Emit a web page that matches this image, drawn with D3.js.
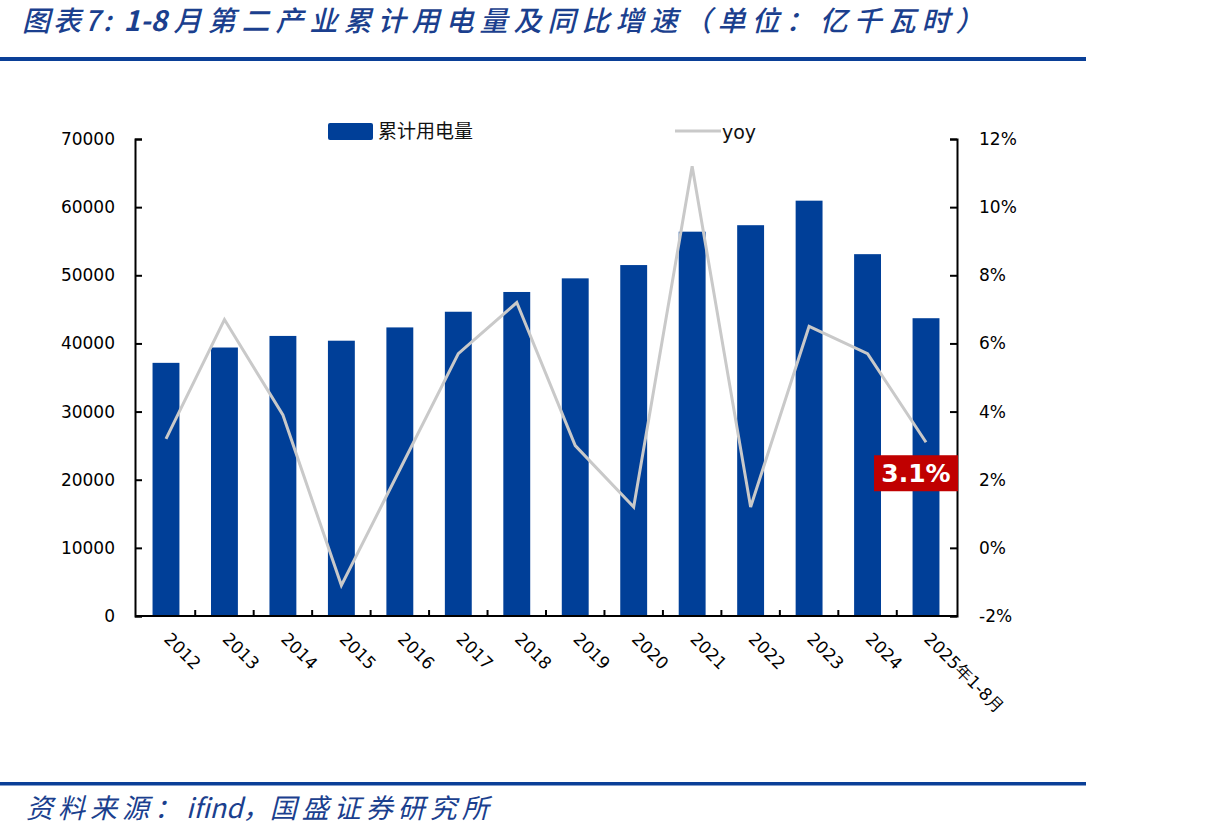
<!DOCTYPE html>
<html>
<head>
<meta charset="utf-8">
<script src="https://cdn.jsdelivr.net/npm/d3@7"></script>
<style>
  body { margin: 0; background: #fff; }
  svg { display: block; }
</style>
</head>
<body>
<svg width="1205" height="839"></svg>
<script>
// data
var years = ["2012","2013","2014","2015","2016","2017","2018","2019","2020","2021","2022","2023","2024","2025年1-8月"];
var power = [37150, 39400, 41100, 40400, 42350, 44650, 47550, 49550, 51500, 56400, 57350, 60950, 53100, 43700];
var yoy = [3.2, 6.7, 3.9, -1.1, 2.3, 5.7, 7.2, 3.0, 1.2, 11.2, 1.2, 6.5, 5.7, 3.1];
var leftTicks = [0, 10000, 20000, 30000, 40000, 50000, 60000, 70000];
var rightTicks = [-2, 0, 2, 4, 6, 8, 10, 12];

var svg = d3.select("svg");
var blue = "#003f98", grey = "#c9c9c9", titleBlue = "#1b3f8e";
var fontCN = "'Noto Sans CJK SC', sans-serif";
var fontNum = "'DejaVu Sans', Verdana, sans-serif";

var plotL = 135, plotR = 957, plotT = 139, plotB = 616;

var x = d3.scaleBand().domain(years).range([plotL, plotR]).paddingInner(0.54).paddingOuter(0.3);
var y = d3.scaleLinear().domain([0, 70000]).range([plotB, plotT]);
var y2 = d3.scaleLinear().domain([-2, 12]).range([plotB, plotT]);

// title
var title = svg.append("text")
    .attr("x", 22).attr("y", 31)
    .style("font-family", fontCN).style("font-style", "italic").style("font-weight", "500")
    .style("font-size", "28px").style("fill", titleBlue);
title.append("tspan").style("letter-spacing", "3px").text("图表7: ");
title.append("tspan").style("font-weight", "bold").text("1-8 ");
title.append("tspan").style("letter-spacing", "6px").text("月第二产业累计用电量及同比增速（单位：亿千瓦时）");
svg.append("rect").attr("x", 0).attr("y", 57).attr("width", 1086).attr("height", 4).attr("fill", "#0a3f97");

// footer
svg.append("rect").attr("x", 0).attr("y", 782).attr("width", 1086).attr("height", 3.5).attr("fill", "#0a3f97");
var foot = svg.append("text")
    .attr("x", 26).attr("y", 818)
    .style("font-family", fontCN).style("font-style", "italic")
    .style("font-size", "27px").style("fill", titleBlue);
foot.append("tspan").style("letter-spacing", "5px").text("资料来源：");
foot.append("tspan").text("ifind，");
foot.append("tspan").style("letter-spacing", "5px").text("国盛证券研究所");

// bars
svg.append("g").selectAll("rect")
    .data(power)
  .enter().append("rect")
    .attr("x", function(d, i) { return x(years[i]); })
    .attr("y", function(d) { return y(d); })
    .attr("width", x.bandwidth())
    .attr("height", function(d) { return plotB - y(d); })
    .attr("fill", blue);

// yoy line
var line = d3.line()
    .x(function(d, i) { return x(years[i]) + x.bandwidth() / 2; })
    .y(function(d) { return y2(d); });
svg.append("path")
    .datum(yoy)
    .attr("d", line)
    .attr("fill", "none")
    .attr("stroke", grey)
    .attr("stroke-width", 3);

// axes
var axL = svg.append("g").attr("transform", "translate(" + plotL + ",0)")
    .call(d3.axisLeft(y).tickValues(leftTicks).tickSize(-7).tickPadding(20).tickFormat(d3.format("d")));
var axR = svg.append("g").attr("transform", "translate(" + plotR + ",0)")
    .call(d3.axisRight(y2).tickValues(rightTicks).tickSize(-7).tickPadding(22).tickFormat(function(d) { return d + "%"; }));
[axL, axR].forEach(function(a) {
  a.select(".domain").attr("stroke", "#000").attr("stroke-width", 2);
  a.selectAll(".tick line").attr("stroke", "#000").attr("stroke-width", 2);
  a.selectAll(".tick text").style("font-family", fontNum).style("font-size", "17px").style("fill", "#000");
});

// bottom axis line and ticks between categories
svg.append("line").attr("x1", plotL).attr("x2", plotR).attr("y1", plotB).attr("y2", plotB)
    .attr("stroke", "#000").attr("stroke-width", 2);
var step = x.step();
svg.append("g").selectAll("line")
    .data(years.slice(1))
  .enter().append("line")
    .attr("x1", function(d) { return x(d) - step * 0.27; })
    .attr("x2", function(d) { return x(d) - step * 0.27; })
    .attr("y1", plotB).attr("y2", plotB - 6)
    .attr("stroke", "#000").attr("stroke-width", 2);

// x labels
svg.append("g").selectAll("text")
    .data(years)
  .enter().append("text")
    .attr("transform", function(d) {
      return "translate(" + (x(d) + x.bandwidth() / 2 - 3) + "," + (plotB + 24) + ") rotate(45)";
    })
    .style("font-family", fontNum).style("font-size", "17px").style("fill", "#000")
    .text(function(d) { return d; });

// last value label
var lx = x(years[13]) + x.bandwidth() / 2, ly = y2(yoy[13]);
svg.append("rect").attr("x", lx - 52).attr("y", ly + 13).attr("width", 84).attr("height", 36).attr("fill", "#c00000");
svg.append("text")
    .attr("x", lx - 10).attr("y", ly + 40)
    .attr("text-anchor", "middle")
    .style("font-family", fontNum).style("font-weight", "bold")
    .style("font-size", "25px").style("fill", "#fff")
    .text(yoy[13].toFixed(1) + "%");

// legend
svg.append("rect").attr("x", 328).attr("y", 123).attr("width", 45).attr("height", 17).attr("rx", 2).attr("fill", blue);
svg.append("text").attr("x", 378).attr("y", 138)
    .style("font-family", fontCN).style("font-size", "19px").style("fill", "#111")
    .text("累计用电量");
svg.append("line").attr("x1", 675).attr("x2", 721).attr("y1", 131).attr("y2", 131)
    .attr("stroke", grey).attr("stroke-width", 3);
svg.append("text").attr("x", 722).attr("y", 139)
    .style("font-family", fontNum).style("font-size", "19px").style("fill", "#111")
    .text("yoy");
</script>
</body>
</html>
